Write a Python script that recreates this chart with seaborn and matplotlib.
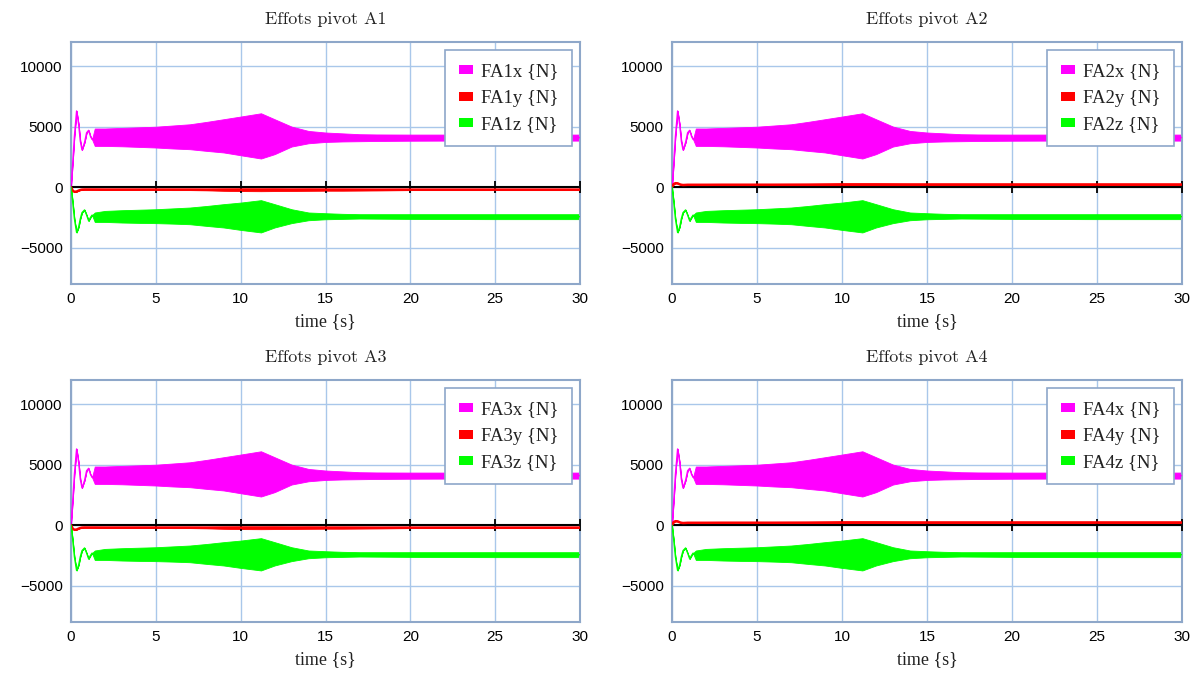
import matplotlib
matplotlib.use("Agg")
import numpy as np
import pandas as pd
import seaborn as sns
import matplotlib.pyplot as plt
from matplotlib.patches import Patch

# ---------------- data ----------------
t = [0, 0.1, 0.2, 0.33, 0.45, 0.55, 0.65, 0.8, 0.92, 1.04, 1.15, 1.24,
     1.4, 2, 3, 4, 5, 6, 7, 8, 9, 10,
     11.2, 12, 13, 14, 15, 16, 17, 18,
     20, 22, 25, 28, 30]

# x-component envelope (upper / lower)
fx_hi = [0, 2000, 4200, 6300, 5200, 3800, 3080, 3700, 4500, 4700, 4200, 3960,
         4850, 4850, 4900, 4950, 5000, 5100, 5200, 5400, 5620, 5840,
         6110, 5620, 5010, 4650, 4520, 4450, 4380, 4360,
         4350, 4350, 4350, 4350, 4350]
fx_lo = [0, 2000, 4200, 6300, 5200, 3800, 3080, 3700, 4500, 4700, 4200, 3960,
         3410, 3410, 3380, 3330, 3280, 3200, 3140, 3000, 2870, 2640,
         2370, 2730, 3360, 3630, 3740, 3780, 3800, 3820,
         3840, 3850, 3850, 3850, 3850]

# z-component envelope
fz_hi = [0, -1200, -2600, -3740, -3300, -2600, -2100, -1880, -2300, -2780, -2500, -2310,
         -2090, -1960, -1900, -1860, -1820, -1750, -1680, -1550, -1400, -1270,
         -1070, -1400, -1820, -2090, -2150, -2200, -2230, -2230,
         -2230, -2230, -2230, -2230, -2230]
fz_lo = [0, -1200, -2600, -3740, -3300, -2600, -2100, -1880, -2300, -2780, -2500, -2310,
         -2870, -2870, -2920, -2950, -2970, -3010, -3060, -3200, -3330, -3530,
         -3740, -3330, -2970, -2730, -2650, -2620, -2590, -2600,
         -2620, -2630, -2640, -2640, -2640]

# y-component envelope, pivots A1/A3 (slightly negative)
fy_neg_hi = [0, -280, -380, -360, -280, -230, -200, -180, -170, -170, -170, -170,
             -160, -160, -160, -160, -160, -150, -150, -140, -110, -100,
             -100, -100, -110, -110, -120, -120, -130, -140,
             -160, -160, -160, -160, -160]
fy_neg_lo = [0, -280, -380, -360, -280, -230, -200, -200, -210, -210, -210, -210,
             -220, -230, -230, -230, -230, -240, -240, -260, -300, -320,
             -330, -320, -310, -300, -290, -290, -280, -270,
             -240, -240, -240, -240, -240]
# y-component envelope, pivots A2/A4 (slightly positive)
fy_pos_hi = [0, 260, 330, 320, 240, 200, 180, 190, 200, 200, 200, 200,
             230, 240, 250, 250, 260, 260, 270, 280, 300, 320,
             320, 320, 310, 300, 300, 300, 300, 300,
             300, 300, 300, 300, 300]
fy_pos_lo = [0, 260, 330, 320, 240, 200, 180, 190, 200, 200, 200, 200,
             170, 160, 160, 160, 150, 150, 150, 140, 130, 120,
             120, 120, 130, 140, 140, 140, 140, 140,
             140, 140, 140, 140, 140]

pivots = ["A1", "A2", "A3", "A4"]
y_sets = {"A1": (fy_neg_hi, fy_neg_lo), "A2": (fy_pos_hi, fy_pos_lo),
          "A3": (fy_neg_hi, fy_neg_lo), "A4": (fy_pos_hi, fy_pos_lo)}

x_ticks = [0, 5, 10, 15, 20, 25, 30]
y_ticks = [-5000, 0, 5000, 10000]

colors = {"x": "#ff00ff", "y": "#ff0000", "z": "#00ff00"}
widths = {"x": 1.0, "y": 1.8, "z": 1.0}

# ---------------- build long table ----------------
rows = []
for p in pivots:
    comps = {"x": (fx_hi, fx_lo), "y": y_sets[p], "z": (fz_hi, fz_lo)}
    for c, (hi, lo) in comps.items():
        for ti, h, l in zip(t, hi, lo):
            rows.append((p, c, ti, h))
            rows.append((p, c, ti, l))
df = pd.DataFrame(rows, columns=["pv", "comp", "time", "force"])

# ---------------- figure ----------------
sns.set_style("white")
plt.rcParams["font.family"] = ["Liberation Sans", "DejaVu Sans"]
title_font = ["cmr10", "Liberation Serif"]
serif = ["Liberation Serif", "DejaVu Serif"]

fig = plt.figure(figsize=(11.93, 6.74), dpi=100)
W, H = 1193, 674
boxes = [(71, 42, 580, 284), (672, 42, 1182, 284),
         (71, 380, 580, 622), (672, 380, 1182, 622)]

grid_c = "#a9c7ea"
spine_c = "#8ea7c9"

for p, (l, tp, r, b) in zip(pivots, boxes):
    ax = fig.add_axes([l / W, 1 - b / H, (r - l) / W, (b - tp) / H])
    sub = df[df["pv"] == p]
    for c in ["x", "y", "z"]:
        sns.lineplot(data=sub[sub["comp"] == c], x="time", y="force",
                     estimator="mean", errorbar=("pi", 100),
                     color=colors[c], linewidth=widths[c],
                     err_kws={"alpha": 1.0, "linewidth": 0.6,
                              "edgecolor": colors[c]},
                     ax=ax, zorder=3)
    # zero line with tick marks
    ax.axhline(0, color="black", lw=1.5, zorder=2.5)
    ax.plot(x_ticks, [0] * len(x_ticks), ls="none", marker="|",
            ms=9, mew=1.3, color="black", zorder=2.6)

    ax.set_xlim(0, 30)
    ax.set_ylim(-8000, 12000)
    ax.set_xticks(x_ticks)
    ax.set_yticks(y_ticks)
    ax.grid(True, color=grid_c, lw=1.0, zorder=0)
    ax.set_axisbelow(True)
    for s in ax.spines.values():
        s.set_color(spine_c)
        s.set_linewidth(1.5)
    ax.tick_params(length=0, labelsize=11, pad=6, colors="black")
    ax.set_title(f"Effots pivot {p}", family=title_font, fontsize=13, pad=13,
                 color="#222222")
    ax.set_xlabel("time {s}", family=serif, fontsize=13, labelpad=5,
                  color="#222222")
    ax.set_ylabel("")

    handles = [Patch(facecolor=colors[c], edgecolor="none") for c in ["x", "y", "z"]]
    labels = [f"F{p}{c} {{N}}" for c in ["x", "y", "z"]]
    leg = ax.legend(handles, labels, loc="upper right", fancybox=False,
                    framealpha=1.0, edgecolor=spine_c, handlelength=0.75,
                    handleheight=0.35, handletextpad=0.45, labelspacing=0.5,
                    borderpad=0.7, borderaxespad=0.45,
                    prop={"family": serif, "size": 13.5}, labelcolor="#222222")
    leg.get_frame().set_linewidth(1.2)
    leg.set_zorder(10)

fig.savefig("out.png", dpi=100)
